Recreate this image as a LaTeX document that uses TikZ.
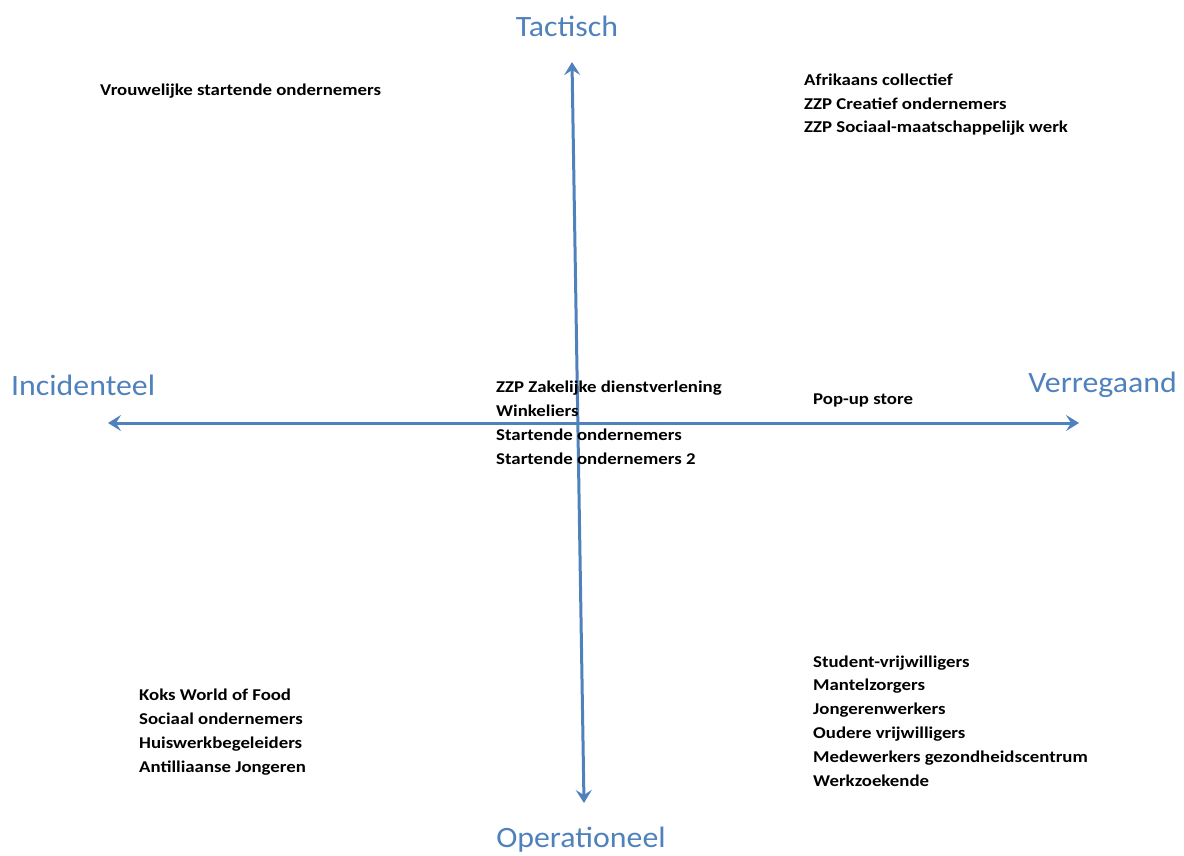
\documentclass[tikz,border=0pt]{standalone}
\usepackage{fontspec}
\setmainfont{Carlito}
\newfontfamily\bodyfont[FakeStretch=1.14]{Carlito}
\newfontfamily\labelfont[FakeStretch=1.08]{Carlito}
\usetikzlibrary{arrows.meta}
\definecolor{axisblue}{HTML}{4F81BD}
\tikzset{
  axisline/.style={draw=axisblue, line width=3pt, {Stealth[length=13pt,width=16pt,inset=5pt]}-{Stealth[length=13pt,width=16pt,inset=5pt]}},
  axislabel/.style={text=axisblue, font=\labelfont\fontsize{29.5}{34}\selectfont, inner sep=0pt},
  group/.style={font=\bodyfont\fontsize{16.5}{23.8}\selectfont\bfseries, align=left, anchor=base west, inner sep=0pt, text=black}
}
\begin{document}
\begin{tikzpicture}[x=1pt,y=-1pt]
\useasboundingbox (0,0) rectangle (1184,856);
\coordinate (top) at (572,62);
\coordinate (bot) at (584,803);
\coordinate (lft) at (108,423);
\coordinate (rgt) at (1079,423);
\draw[axisline] (top) -- (bot);
\draw[axisline] (lft) -- (rgt);
\node[axislabel] (tac) at (567,26) {Tactisch};
\node[axislabel] (ope) at (581,840) {Operationeel};
\node[axislabel, anchor=west] (inc) at (11,385) {Incidenteel};
\node[axislabel, anchor=east] (ver) at (1177,385) {Verregaand};
\node[group] (g1) at (100,96) {Vrouwelijke startende ondernemers};
\node[group] (g2) at (804,133) {Afrikaans collectief\\ZZP Creatief ondernemers\\ZZP Sociaal-maatschappelijk werk};
\node[group] (g3) at (496,464) {ZZP Zakelijke dienstverlening\\Winkeliers\\Startende ondernemers\\Startende ondernemers 2};
\node[group] (g4) at (813,404) {Pop-up store};
\node[group] (g5) at (139,772) {Koks World of Food\\Sociaal ondernemers\\Huiswerkbegeleiders\\Antilliaanse Jongeren};
\node[group] (g6) at (813,786) {Student-vrijwilligers\\Mantelzorgers\\Jongerenwerkers\\Oudere vrijwilligers\\Medewerkers gezondheidscentrum\\Werkzoekende};
\end{tikzpicture}
\end{document}
